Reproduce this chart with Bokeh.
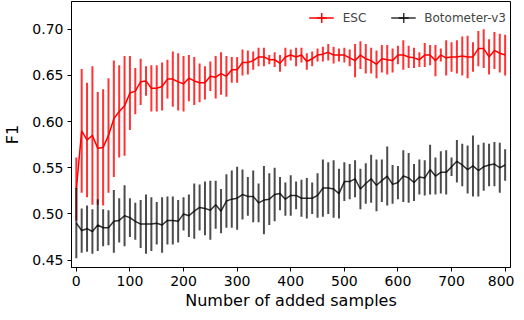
from bokeh.plotting import figure
from bokeh.models import Range1d, Legend, LegendItem, FixedTicker, ColumnDataSource, PrintfTickFormatter
from bokeh.embed import file_html
from bokeh.resources import INLINE

# Number of added samples
samples = [0, 10, 20, 30, 40, 50, 60, 70, 80, 90, 100, 110, 120, 130, 140, 150, 160, 170, 180, 190,
           200, 210, 220, 230, 240, 250, 260, 270, 280, 290, 300, 310, 320, 330, 340, 350, 360, 370, 380, 390,
           400, 410, 420, 430, 440, 450, 460, 470, 480, 490, 500, 510, 520, 530, 540, 550, 560, 570, 580, 590,
           600, 610, 620, 630, 640, 650, 660, 670, 680, 690, 700, 710, 720, 730, 740, 750, 760, 770, 780, 790, 800]

esc_f1 = [0.527, 0.590, 0.580, 0.585, 0.571, 0.572, 0.585, 0.603, 0.611, 0.617, 0.631,
          0.633, 0.643, 0.644, 0.636, 0.636, 0.638, 0.646, 0.646, 0.643, 0.641,
          0.647, 0.644, 0.642, 0.642, 0.649, 0.648, 0.652, 0.649, 0.656, 0.656,
          0.664, 0.664, 0.666, 0.670, 0.670, 0.667, 0.667, 0.663, 0.670, 0.672,
          0.670, 0.672, 0.665, 0.668, 0.672, 0.673, 0.675, 0.672, 0.672, 0.672,
          0.669, 0.666, 0.672, 0.668, 0.666, 0.662, 0.668, 0.667, 0.666, 0.672,
          0.672, 0.670, 0.669, 0.667, 0.672, 0.672, 0.666, 0.672, 0.669, 0.670,
          0.670, 0.671, 0.670, 0.670, 0.679, 0.679, 0.670, 0.677, 0.674, 0.672]
esc_err = [0.034, 0.067, 0.062, 0.075, 0.061, 0.063, 0.062, 0.063, 0.050, 0.054, 0.040,
           0.025, 0.025, 0.016, 0.025, 0.025, 0.026, 0.021, 0.030, 0.031, 0.030,
           0.025, 0.026, 0.021, 0.018, 0.016, 0.023, 0.023, 0.022, 0.014, 0.014,
           0.014, 0.013, 0.010, 0.010, 0.010, 0.005, 0.008, 0.009, 0.010, 0.006,
           0.010, 0.008, 0.009, 0.008, 0.007, 0.008, 0.009, 0.009, 0.007, 0.008,
           0.009, 0.018, 0.015, 0.016, 0.014, 0.015, 0.015, 0.016, 0.013, 0.010,
           0.016, 0.012, 0.011, 0.008, 0.013, 0.011, 0.017, 0.007, 0.019, 0.016,
           0.018, 0.021, 0.023, 0.016, 0.019, 0.021, 0.019, 0.020, 0.021, 0.022]

bot_f1 = [0.490, 0.482, 0.484, 0.481, 0.488, 0.485, 0.485, 0.492, 0.493, 0.498, 0.496,
          0.492, 0.489, 0.489, 0.489, 0.490, 0.488, 0.493, 0.493, 0.492, 0.500,
          0.498, 0.503, 0.507, 0.506, 0.504, 0.510, 0.503, 0.514, 0.516, 0.517,
          0.521, 0.519, 0.519, 0.512, 0.515, 0.516, 0.521, 0.522, 0.516, 0.520,
          0.520, 0.517, 0.517, 0.517, 0.520, 0.528, 0.528, 0.527, 0.522, 0.535,
          0.535, 0.538, 0.527, 0.533, 0.538, 0.531, 0.536, 0.541, 0.532, 0.534,
          0.541, 0.539, 0.534, 0.540, 0.539, 0.548, 0.541, 0.545, 0.545, 0.551,
          0.557, 0.553, 0.548, 0.552, 0.547, 0.551, 0.553, 0.554, 0.550, 0.553]
bot_err = [0.038, 0.024, 0.025, 0.024, 0.028, 0.020, 0.019, 0.034, 0.024, 0.033, 0.021,
           0.020, 0.026, 0.032, 0.029, 0.023, 0.030, 0.026, 0.026, 0.023, 0.018,
           0.023, 0.030, 0.025, 0.029, 0.032, 0.026, 0.024, 0.029, 0.031, 0.034,
           0.027, 0.021, 0.028, 0.021, 0.037, 0.028, 0.029, 0.018, 0.018, 0.022,
           0.015, 0.020, 0.022, 0.017, 0.024, 0.031, 0.028, 0.031, 0.027, 0.021,
           0.019, 0.020, 0.022, 0.022, 0.026, 0.028, 0.023, 0.032, 0.021, 0.018,
           0.028, 0.027, 0.020, 0.019, 0.019, 0.027, 0.020, 0.023, 0.024, 0.010,
           0.023, 0.023, 0.026, 0.033, 0.028, 0.026, 0.023, 0.024, 0.027, 0.017]

y_ticks = [0.45, 0.50, 0.55, 0.60, 0.65, 0.70]
x_ticks = [0, 100, 200, 300, 400, 500, 600, 700, 800]

FONT = "DejaVu Sans"

esc_src = ColumnDataSource(dict(x=samples, y=esc_f1,
                                lo=[m - e for m, e in zip(esc_f1, esc_err)],
                                hi=[m + e for m, e in zip(esc_f1, esc_err)]))
bot_src = ColumnDataSource(dict(x=samples, y=bot_f1,
                                lo=[m - e for m, e in zip(bot_f1, bot_err)],
                                hi=[m + e for m, e in zip(bot_f1, bot_err)]))

p = figure(width=514, height=312, output_backend="svg", toolbar_location=None,
           x_range=Range1d(-9, 810), y_range=Range1d(0.442, 0.730),
           min_border_left=0, min_border_right=4, min_border_top=1, min_border_bottom=0)
p.background_fill_color = "white"
p.border_fill_color = "white"
p.outline_line_color = "black"
p.outline_line_width = 1
p.xgrid.visible = False
p.ygrid.visible = False

# ESC
p.segment(x0="x", y0="lo", x1="x", y1="hi", source=esc_src, line_color="#ff0000",
          line_alpha=0.8, line_width=2)
esc_line = p.line("x", "y", source=esc_src, line_color="#ff0000", line_width=1.5)
esc_mark = p.scatter("x", "y", source=esc_src, marker="cross", size=0,
                     line_color="#ff0000", line_width=1.5)

# Botometer-v3
p.segment(x0="x", y0="lo", x1="x", y1="hi", source=bot_src, line_color="black",
          line_alpha=0.7, line_width=2)
bot_line = p.line("x", "y", source=bot_src, line_color="black", line_alpha=0.8, line_width=1.5)
bot_mark = p.scatter("x", "y", source=bot_src, marker="cross", size=0,
                     line_color="black", line_alpha=0.8, line_width=1.5)

legend = Legend(items=[LegendItem(label="ESC", renderers=[esc_line, esc_mark]),
                       LegendItem(label="Botometer-v3", renderers=[bot_line, bot_mark])],
                orientation="horizontal", location="top_right",
                border_line_color=None, background_fill_alpha=0,
                label_text_font=FONT, label_text_font_size="12px",
                glyph_width=25, glyph_height=25, label_standoff=9, spacing=24,
                margin=4, padding=3)
p.add_layout(legend)

p.xaxis.ticker = FixedTicker(ticks=x_ticks)
p.yaxis.ticker = FixedTicker(ticks=y_ticks)
p.yaxis.formatter = PrintfTickFormatter(format="%.2f")
p.xaxis.axis_label = "Number of added samples"
p.yaxis.axis_label = "F1"

for ax in (p.xaxis, p.yaxis):
    ax.axis_line_color = "black"
    ax.major_tick_line_color = "black"
    ax.major_tick_in = 0
    ax.major_tick_out = 4
    ax.minor_tick_line_color = None
    ax.major_label_text_font = FONT
    ax.major_label_text_font_size = "14px"
    ax.major_label_text_color = "black"
    ax.axis_label_text_font = FONT
    ax.axis_label_text_font_size = "16px"
    ax.axis_label_text_font_style = "normal"
    ax.axis_label_text_color = "black"
    ax.major_label_standoff = 4

p.xaxis.axis_label_standoff = 2
p.yaxis.axis_label_standoff = 7

open("out.html", "w").write(file_html(p, INLINE))
